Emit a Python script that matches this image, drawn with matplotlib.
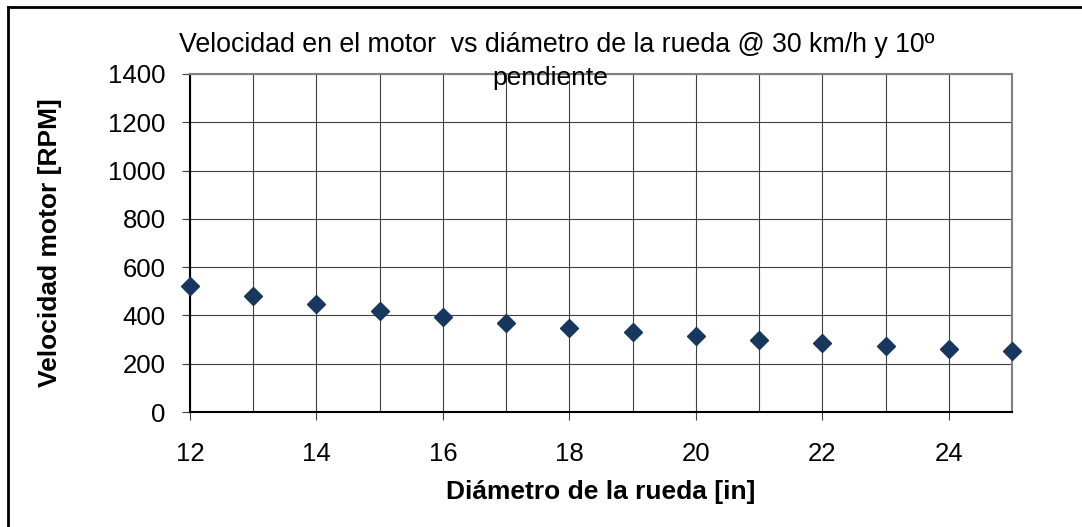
import matplotlib.pyplot as plt
from matplotlib.ticker import MultipleLocator
from matplotlib.lines import Line2D

plt.rcParams['font.family'] = ['Liberation Sans', 'DejaVu Sans']

diametro = [12, 13, 14, 15, 16, 17, 18, 19, 20, 21, 22, 23, 24, 25]
rpm = [522, 482, 448, 418, 392, 369, 348, 330, 313, 298, 285, 272, 261, 251]

fig = plt.figure(figsize=(10.82, 5.27), dpi=100)
ax = fig.add_axes([0.1756, 0.2182, 0.7597, 0.6414])

ax.plot(diametro, rpm, linestyle='none', marker='D', markersize=9,
        color='#17375E', zorder=3, clip_on=False)

ax.set_xlim(12, 25)
ax.set_ylim(0, 1400)
ax.xaxis.set_major_locator(MultipleLocator(2))
ax.xaxis.set_minor_locator(MultipleLocator(1))
ax.yaxis.set_major_locator(MultipleLocator(200))

ax.grid(True, which='major', axis='y', color='#404040', linewidth=0.8)
ax.grid(True, which='both', axis='x', color='#404040', linewidth=0.8)
ax.set_axisbelow(True)

ax.tick_params(axis='both', which='major', labelsize=18.5, length=5.5, width=0.8,
               direction='out', color='#404040')
ax.tick_params(axis='x', which='major', pad=16)
ax.tick_params(axis='y', which='major', pad=12)
ax.tick_params(axis='x', which='minor', length=0)

for s in ['top', 'right']:
    ax.spines[s].set_color('#808080')
    ax.spines[s].set_linewidth(1.5)
for s in ['left', 'bottom']:
    ax.spines[s].set_color('black')
    ax.spines[s].set_linewidth(1.5)

ax.set_xlabel('Diámetro de la rueda [in]', fontsize=19, fontweight='bold', va='center')
ax.set_ylabel('Velocidad motor [RPM]', fontsize=19, fontweight='bold', va='center')
ax.xaxis.set_label_coords(0.5, -0.237)
ax.yaxis.set_label_coords(-0.170, 0.5)

fig.text(0.515, 0.914, 'Velocidad en el motor  vs diámetro de la rueda @ 30 km/h y 10º',
         ha='center', va='center', fontsize=19.3)
fig.text(0.509, 0.852, 'pendiente', ha='center', va='center', fontsize=19)

# marco del gráfico (solo se ve arriba e izquierda)
fig.add_artist(Line2D([0.0075, 0.0075], [0, 0.987], transform=fig.transFigure,
                      color='black', linewidth=2))
fig.add_artist(Line2D([0.0075, 1.0], [0.987, 0.987], transform=fig.transFigure,
                      color='black', linewidth=2))

fig.savefig('out.png', dpi=100)
